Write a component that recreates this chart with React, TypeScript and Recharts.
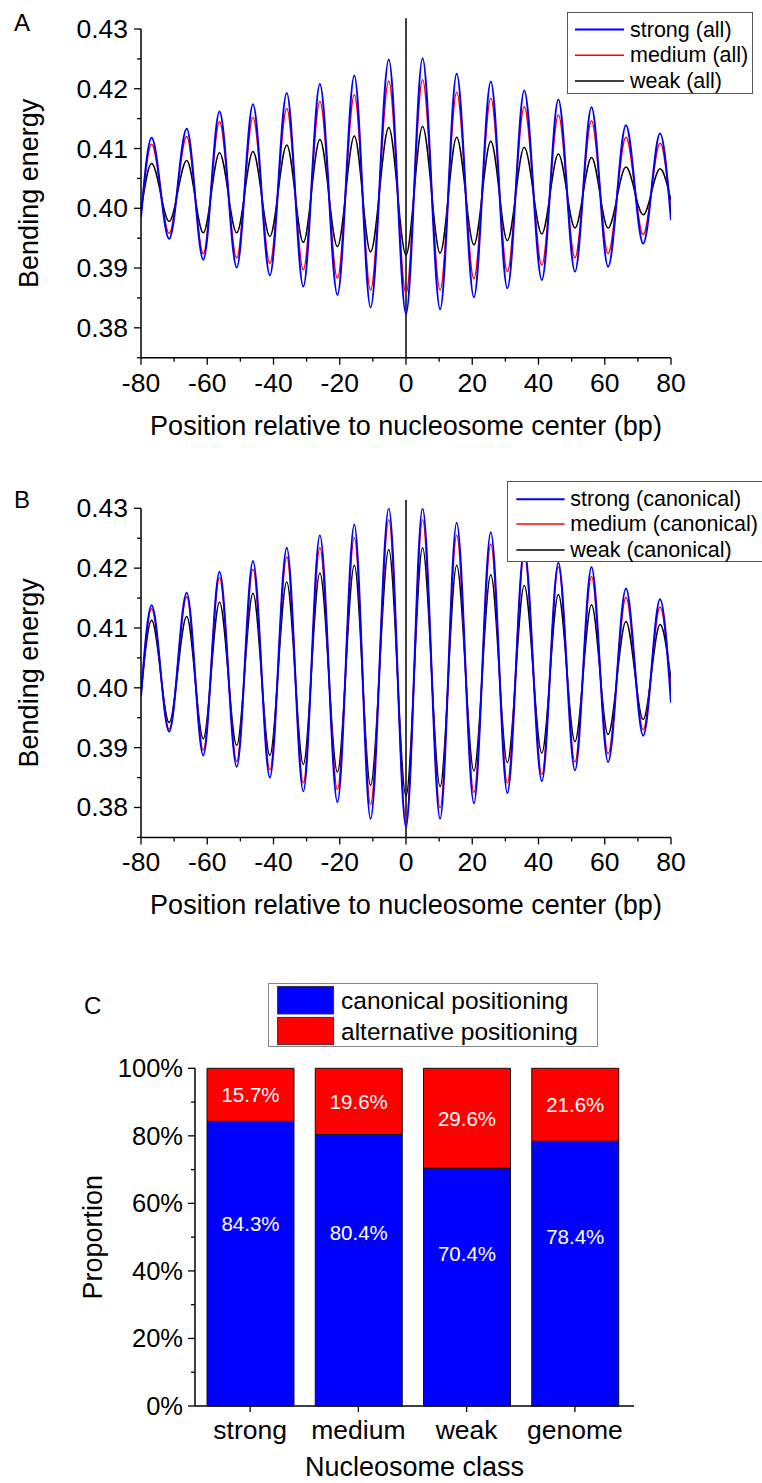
import React from 'react';
import { LineChart, Line, XAxis, YAxis, ReferenceLine, Legend, BarChart, Bar, LabelList } from 'recharts';

const FONT = '"Liberation Sans", Arial, Helvetica, sans-serif';

// Positions (bp) of the sampled extrema, shared by all curves
const positions = [-80, -76.8, -71.5, -66.2, -61.2, -56.3, -51.1, -46.2, -41.1, -36, -31, -26, -20.7, -15.6, -10.7, -5.2, 0, 5, 10.3, 15.3, 20.5, 25.6, 30.6, 35.7, 41, 46, 51, 56, 61, 66.4, 71.6, 76.7, 80];

// Panel A (all)
const strongAll = [0.3985, 0.4118, 0.3949, 0.4133, 0.3914, 0.4162, 0.3901, 0.4174, 0.3888, 0.4193, 0.3869, 0.4208, 0.3855, 0.4222, 0.3834, 0.4249, 0.3823, 0.4251, 0.3831, 0.4225, 0.3851, 0.4212, 0.3866, 0.4197, 0.3880, 0.4182, 0.3894, 0.4169, 0.3902, 0.4139, 0.3941, 0.4125, 0.3980];
const mediumAll = [0.3990, 0.4107, 0.3958, 0.4120, 0.3924, 0.4145, 0.3917, 0.4152, 0.3908, 0.4167, 0.3897, 0.4179, 0.3883, 0.4190, 0.3863, 0.4213, 0.3857, 0.4215, 0.3863, 0.4194, 0.3882, 0.4184, 0.3894, 0.4170, 0.3905, 0.4156, 0.3917, 0.4146, 0.3924, 0.4119, 0.3956, 0.4109, 0.3995];
const weakAll = [0.3995, 0.4075, 0.3978, 0.4080, 0.3959, 0.4093, 0.3959, 0.4095, 0.3953, 0.4106, 0.3943, 0.4115, 0.3936, 0.4121, 0.3927, 0.4135, 0.3922, 0.4137, 0.3925, 0.4119, 0.3939, 0.4112, 0.3946, 0.4102, 0.3957, 0.4091, 0.3967, 0.4085, 0.3967, 0.4069, 0.3989, 0.4066, 0.4013];

// Panel B (canonical)
const strongCan = [0.3986, 0.4138, 0.3927, 0.4159, 0.3887, 0.4194, 0.3868, 0.4212, 0.3850, 0.4234, 0.3827, 0.4255, 0.3809, 0.4273, 0.3781, 0.4300, 0.3767, 0.4300, 0.3781, 0.4276, 0.3807, 0.4260, 0.3824, 0.4232, 0.3844, 0.4209, 0.3862, 0.4202, 0.3876, 0.4166, 0.3920, 0.4148, 0.3975];
const mediumCan = [0.3988, 0.4132, 0.3931, 0.4152, 0.3896, 0.4184, 0.3877, 0.4198, 0.3863, 0.4219, 0.3841, 0.4234, 0.3830, 0.4251, 0.3805, 0.4281, 0.3777, 0.4281, 0.3799, 0.4255, 0.3825, 0.4240, 0.3841, 0.4223, 0.3855, 0.4202, 0.3876, 0.4186, 0.3890, 0.4151, 0.3930, 0.4135, 0.3995];
const weakCan = [0.3990, 0.4113, 0.3942, 0.4119, 0.3915, 0.4143, 0.3904, 0.4158, 0.3887, 0.4177, 0.3872, 0.4192, 0.3859, 0.4205, 0.3837, 0.4231, 0.3819, 0.4234, 0.3835, 0.4205, 0.3861, 0.4189, 0.3875, 0.4171, 0.3891, 0.4156, 0.3910, 0.4139, 0.3922, 0.4111, 0.3947, 0.4106, 0.4014];

const xTicks = [-80, -70, -60, -50, -40, -30, -20, -10, 0, 10, 20, 30, 40, 50, 60, 70, 80];
const energyTicks = [0.375, 0.38, 0.385, 0.39, 0.395, 0.40, 0.405, 0.41, 0.415, 0.42, 0.425, 0.43];

// Panel C
const classes = ['strong', 'medium', 'weak', 'genome'];
const canonical = [84.3, 80.4, 70.4, 78.4];
const alternative = [15.7, 19.6, 29.6, 21.6];
const pctTicks = [0, 10, 20, 30, 40, 50, 60, 70, 80, 90, 100];

const BLUE = '#0000FF';
const RED = '#FF0000';
const BLACK = '#000000';

const dataA = positions.map((p, i) => ({ pos: p, strong: strongAll[i], medium: mediumAll[i], weak: weakAll[i] }));
const dataB = positions.map((p, i) => ({ pos: p, strong: strongCan[i], medium: mediumCan[i], weak: weakCan[i] }));
const dataC = classes.map((c, i) => ({ cls: c, canonical: canonical[i], alternative: alternative[i] }));

const seriesStyle = [
  { key: 'strong', color: BLUE, width: 2 },
  { key: 'medium', color: RED, width: 1.5 },
  { key: 'weak', color: BLACK, width: 1.5 },
];

const TICK_FS = 26.5;
const TITLE_FS = 27;

const EnergyXTick = (props: any) => {
  const { x, y, payload } = props;
  const v = payload.value;
  const major = Math.round(v) % 20 === 0;
  return (
    <g>
      <line x1={x} x2={x} y1={y} y2={y + (major ? 7 : 4)} stroke="#000" strokeWidth={1.3} />
      {major && (
        <text x={x} y={y + 25} textAnchor="middle" dominantBaseline="central" fontSize={TICK_FS} fontFamily={FONT} fill="#000">
          {String(v)}
        </text>
      )}
    </g>
  );
};

const EnergyYTick = (props: any) => {
  const { x, y, payload } = props;
  const v = payload.value;
  const major = Math.abs(v * 100 - Math.round(v * 100)) < 1e-6;
  return (
    <g>
      <line x1={x} x2={x - (major ? 7 : 4)} y1={y} y2={y} stroke="#000" strokeWidth={1.3} />
      {major && (
        <text x={x - 13} y={y} textAnchor="end" dominantBaseline="central" fontSize={TICK_FS} fontFamily={FONT} fill="#000">
          {v.toFixed(2)}
        </text>
      )}
    </g>
  );
};

const PctYTick = (props: any) => {
  const { x, y, payload } = props;
  const v = payload.value;
  const major = v % 20 === 0;
  return (
    <g>
      <line x1={x} x2={x - (major ? 7 : 4)} y1={y} y2={y} stroke="#000" strokeWidth={1.3} />
      {major && (
        <text x={x - 12} y={y} textAnchor="end" dominantBaseline="central" fontSize={25.5} fontFamily={FONT} fill="#000">
          {`${v}%`}
        </text>
      )}
    </g>
  );
};

const ClassTick = (props: any) => {
  const { x, y, payload } = props;
  return (
    <g>
      <line x1={x} x2={x} y1={y} y2={y + 6} stroke="#000" strokeWidth={1.3} />
      <text x={x} y={y + 24} textAnchor="middle" dominantBaseline="central" fontSize={26.5} fontFamily={FONT} fill="#000">
        {payload.value}
      </text>
    </g>
  );
};

const makeXTitle = (text: string, dy: number) => (props: any) => {
  const vb = props.viewBox || {};
  const x = (vb.x ?? 141) + (vb.width ?? 530) / 2;
  const y = (vb.y ?? 0) + dy;
  return (
    <text x={x} y={y} textAnchor="middle" dominantBaseline="central" fontSize={TITLE_FS} fontFamily={FONT} fill="#000">
      {text}
    </text>
  );
};

const makeYTitle = (text: string, cx: number) => (props: any) => {
  const vb = props.viewBox || {};
  const y = (vb.y ?? 0) + (vb.height ?? 0) / 2;
  return (
    <text x={cx} y={y} textAnchor="middle" dominantBaseline="central" fontSize={TITLE_FS} fontFamily={FONT} fill="#000" transform={`rotate(-90 ${cx} ${y})`}>
      {text}
    </text>
  );
};

const LineLegend = ({ labels, width, height, rows, lineX1, lineX2, textX }: any) => (
  <svg width={width} height={height} style={{ display: 'block', overflow: 'visible' }}>
    <rect x={0.5} y={0.5} width={width - 1} height={height - 1} fill="#fff" stroke="#555" strokeWidth={1} />
    {seriesStyle.map((s, i) => (
      <g key={s.key}>
        <line x1={lineX1} x2={lineX2} y1={rows[i]} y2={rows[i]} stroke={s.color} strokeWidth={s.width} />
        <text x={textX} y={rows[i]} dominantBaseline="central" fontSize={21.5} fontFamily={FONT} fill="#000">
          {labels[i]}
        </text>
      </g>
    ))}
  </svg>
);

const BarLegend = () => (
  <svg width={330} height={64} style={{ display: 'block' }}>
    <rect x={0.5} y={0.5} width={329} height={63} fill="#fff" stroke="#888" strokeWidth={1} />
    <rect x={9.6} y={3.4} width={56} height={27.6} fill={BLUE} stroke="#333" strokeWidth={1} />
    <rect x={9.6} y={34.4} width={56} height={27.3} fill={RED} stroke="#333" strokeWidth={1} />
    <text x={73} y={17.2} dominantBaseline="central" fontSize={24.5} fontFamily={FONT} fill="#000">canonical positioning</text>
    <text x={73} y={48} dominantBaseline="central" fontSize={24.5} fontFamily={FONT} fill="#000">alternative positioning</text>
  </svg>
);

const canonicalLabel = (props: any) => {
  const { x, y, width, height, value } = props;
  return (
    <text x={x + width / 2} y={y + height * 0.36} textAnchor="middle" dominantBaseline="central" fontSize={20.5} fontFamily={FONT} fill="#fff">
      {`${value}%`}
    </text>
  );
};

const alternativeLabel = (props: any) => {
  const { x, y, width, height, value } = props;
  return (
    <text x={x + width / 2} y={y + height / 2} textAnchor="middle" dominantBaseline="central" fontSize={20.5} fontFamily={FONT} fill="#fff">
      {`${value}%`}
    </text>
  );
};

const EnergyChart = ({ data, labels, marginTop, xAxisHeight, legendPos, legendProps, refTop }: any) => (
  <LineChart width={762} height={470} data={data} margin={{ top: marginTop, right: 91, bottom: 0, left: 0 }}>
    <XAxis
      dataKey="pos"
      type="number"
      domain={[-80, 80]}
      ticks={xTicks}
      interval={0}
      height={xAxisHeight}
      axisLine={{ stroke: '#000', strokeWidth: 1.5 }}
      tickLine={false}
      tickSize={0}
      tickMargin={0}
      tick={<EnergyXTick />}
      allowDataOverflow
      label={{ content: makeXTitle('Position relative to nucleosome center (bp)', 68) }}
    />
    <YAxis
      type="number"
      domain={[0.375, 0.43]}
      ticks={energyTicks}
      interval={0}
      width={141}
      axisLine={{ stroke: '#000', strokeWidth: 1.5 }}
      tickLine={false}
      tickSize={0}
      tickMargin={0}
      tick={<EnergyYTick />}
      allowDataOverflow
      label={{ content: makeYTitle('Bending energy', 29) }}
    />
    <ReferenceLine
      segment={[{ x: 0, y: 0.375 }, { x: 0, y: refTop }]}
      stroke="#000"
      strokeWidth={1.5}
      ifOverflow="visible"
    />
    <Line type="monotone" dataKey="weak" stroke={BLACK} strokeWidth={1.5} dot={false} isAnimationActive={false} />
    <Line type="monotone" dataKey="medium" stroke={RED} strokeWidth={1.5} dot={false} isAnimationActive={false} />
    <Line type="monotone" dataKey="strong" stroke={BLUE} strokeWidth={2} dot={false} isAnimationActive={false} />
    <Legend
      layout="vertical"
      align="center"
      verticalAlign="middle"
      wrapperStyle={{ left: legendPos.left, top: legendPos.top, width: legendProps.width, height: legendProps.height }}
      content={() => <LineLegend labels={labels} {...legendProps} />}
    />
  </LineChart>
);

export default function App() {
  return (
    <div style={{ position: 'absolute', left: 0, top: 0, width: 762, height: 1483, overflow: 'hidden', background: '#fff', fontFamily: FONT }}>
      <div style={{ position: 'absolute', left: 0, top: 0 }}>
        <EnergyChart
          data={dataA}
          labels={['strong (all)', 'medium (all)', 'weak (all)']}
          marginTop={29}
          xAxisHeight={470 - 29 - 328.7}
          refTop={0.4318}
          legendPos={{ left: 567, top: 11.7 }}
          legendProps={{ width: 186, height: 82, rows: [17.6, 43.3, 69], lineX1: 8, lineX2: 57, textX: 63 }}
        />
      </div>
      <div style={{ position: 'absolute', left: 0, top: 470 }}>
        <EnergyChart
          data={dataB}
          labels={['strong (canonical)', 'medium (canonical)', 'weak (canonical)']}
          marginTop={38.3}
          xAxisHeight={470 - 38.3 - 329.1}
          refTop={0.4314}
          legendPos={{ left: 506.7, top: 11 }}
          legendProps={{ width: 258, height: 81, rows: [18.3, 43, 69], lineX1: 9.3, lineX2: 57.6, textX: 63.3 }}
        />
      </div>
      <div style={{ position: 'absolute', left: 0, top: 950 }}>
        <BarChart width={762} height={533} data={dataC} margin={{ top: 118.3, right: 128, bottom: 0, left: 0 }} barSize={87}>
          <XAxis
            dataKey="cls"
            type="category"
            height={533 - 118.3 - 337.7}
            padding={{ left: 1, right: 5 }}
            interval={0}
            axisLine={{ stroke: '#000', strokeWidth: 1.5 }}
            tickLine={false}
            tickSize={0}
            tickMargin={0}
            tick={<ClassTick />}
            label={{ content: makeXTitle('Nucleosome class', 61) }}
          />
          <YAxis
            type="number"
            domain={[0, 100]}
            ticks={pctTicks}
            interval={0}
            width={195}
            axisLine={{ stroke: '#000', strokeWidth: 1.5 }}
            tickLine={false}
            tickSize={0}
            tickMargin={0}
            tick={<PctYTick />}
            label={{ content: makeYTitle('Proportion', 93) }}
          />
          <Bar dataKey="canonical" stackId="s" fill={BLUE} stroke="#111" strokeWidth={1} isAnimationActive={false}>
            <LabelList dataKey="canonical" content={canonicalLabel} />
          </Bar>
          <Bar dataKey="alternative" stackId="s" fill={RED} stroke="#111" strokeWidth={1} isAnimationActive={false}>
            <LabelList dataKey="alternative" content={alternativeLabel} />
          </Bar>
          <Legend
            layout="vertical"
            align="center"
            verticalAlign="middle"
            wrapperStyle={{ left: 267.7, top: 33.3, width: 330, height: 64 }}
            content={() => <BarLegend />}
          />
        </BarChart>
      </div>
      <div style={{ position: 'absolute', left: 14, top: 8, fontSize: 24, lineHeight: '30px', fontFamily: FONT, color: '#000' }}>A</div>
      <div style={{ position: 'absolute', left: 14, top: 485, fontSize: 24, lineHeight: '30px', fontFamily: FONT, color: '#000' }}>B</div>
      <div style={{ position: 'absolute', left: 84, top: 991, fontSize: 24, lineHeight: '30px', fontFamily: FONT, color: '#000' }}>C</div>
    </div>
  );
}
